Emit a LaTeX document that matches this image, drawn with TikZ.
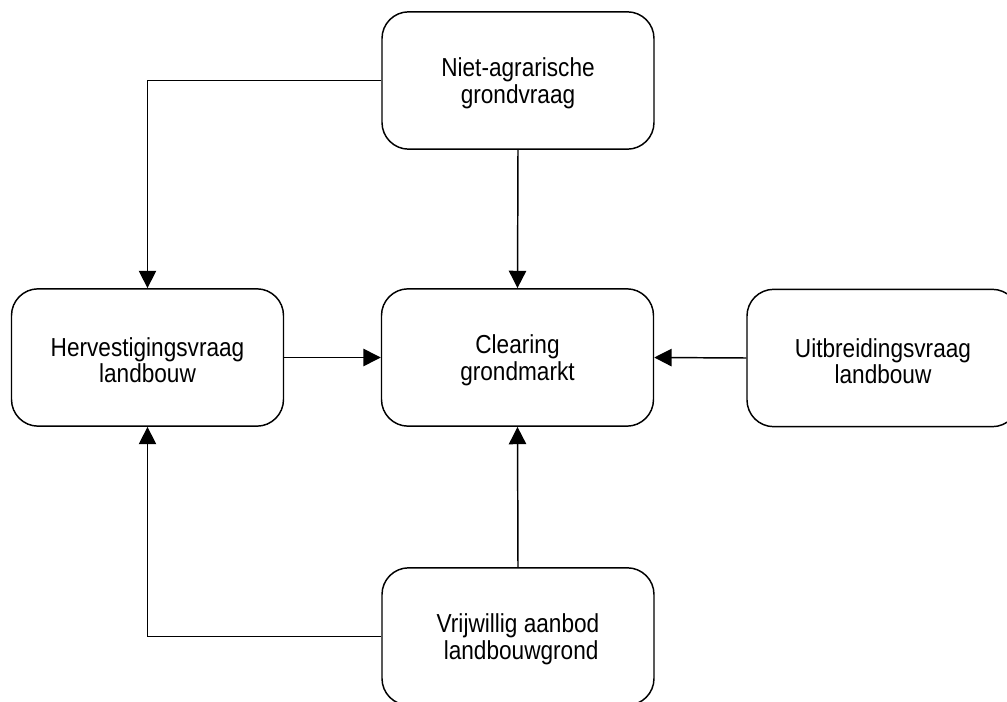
\documentclass[tikz,border=0pt]{standalone}
\usepackage{fontspec}
\setmainfont[FakeStretch=0.87]{Liberation Sans}
\usetikzlibrary{arrows.meta}
% strut that lowers the two text lines slightly inside each box
\newcommand\hoog{\rule{0pt}{18.5pt}}
\tikzset{
  blok/.style={draw, line width=1.1pt, rounded corners=20pt,
    minimum width=204pt, minimum height=103pt, align=center,
    font=\fontsize{19.5}{19.8}\selectfont, inner sep=0pt},
  pijl/.style={line width=1.1pt, -{Triangle[length=13pt, width=13pt]}}
}
\begin{document}
\begin{tikzpicture}[x=0.75pt, y=-0.75pt]
\useasboundingbox (0,0) rectangle (1007,702);
\node[blok] (niet)  at (518,80.5)    {\hoog Niet-agrarische\\grondvraag};
\node[blok] (clear) at (517.5,357.5) {\hoog Clearing\\grondmarkt};
\node[blok] (herv)  at (147.5,357.5) {\hoog Hervestigingsvraag\\landbouw};
\node[blok] (uitb)  at (883,358)     {\hoog Uitbreidingsvraag\\landbouw};
\node[blok] (vrij)  at (518,636.5)   {\hoog Vrijwillig aanbod\\~landbouwgrond};

\draw[pijl] (niet.west) -| (herv.north);
\draw[pijl] (niet.south) -- (clear.north);
\draw[pijl] (herv.east) -- (clear.west);
\draw[pijl] (uitb.west) -- (clear.east);
\draw[pijl] (vrij.north) -- (clear.south);
\draw[pijl] (vrij.west) -| (herv.south);
\end{tikzpicture}
\end{document}
